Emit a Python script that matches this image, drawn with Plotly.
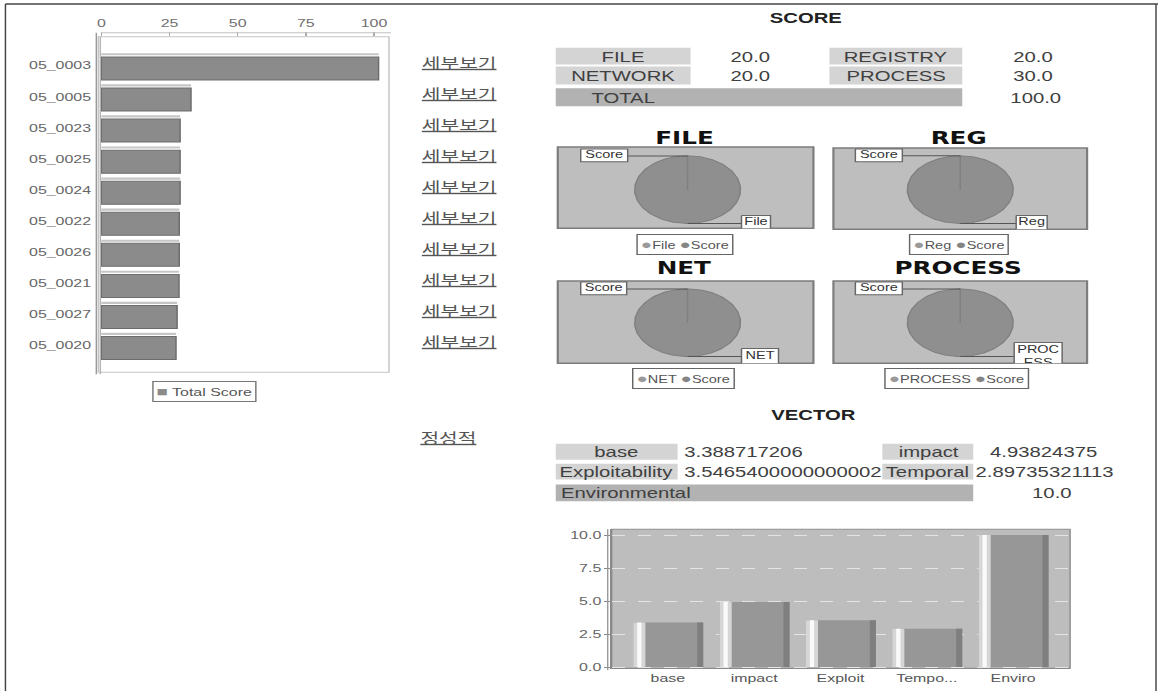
import numpy as np
import plotly.graph_objects as go

# ---------------- data ----------------
sample_ids = ["05_0003", "05_0005", "05_0023", "05_0025", "05_0024",
              "05_0022", "05_0026", "05_0021", "05_0027", "05_0020"]
total_scores = [101.7, 32.9, 28.9, 28.9, 28.9, 28.6, 28.6, 28.5, 27.8, 27.4]
total_x_ticks = [0, 25, 50, 75, 100]

score_names = ["FILE", "REGISTRY", "NETWORK", "PROCESS"]
score_values = [20.0, 20.0, 20.0, 30.0]
score_total = 100.0

pie_titles = ["FILE", "REG", "NET", "PROCESS"]
pie_labels = [["File", "Score"], ["Reg", "Score"], ["NET", "Score"], ["PROCESS", "Score"]]
pie_values = [[20.0, 0.0], [20.0, 0.0], [20.0, 0.0], [30.0, 0.0]]

vector_names = ["base", "impact", "Exploitability", "Temporal", "Environmental"]
vector_values = [3.388717206, 4.93824375, 3.5465400000000002, 2.89735321113, 10.0]
vector_tick_text = ["base", "impact", "Exploit", "Tempo...", "Enviro"]
vector_y_ticks = [0.0, 2.5, 5.0, 7.5, 10.0]

# ---------------- page geometry ----------------
VIEW_W, VIEW_H = 1164, 696          # on-screen size of the page
FIG_W = 803                          # figure is laid out narrow, then stretched wide
SX = VIEW_W / FIG_W

SANS = "Liberation Sans, Arial, sans-serif"
HEAVY = "DejaVu Sans, sans-serif"
KO = "Noto Sans CJK KR, sans-serif"
TXT = "#404040"


def px(x):
    return x / VIEW_W


def py(y):
    return 1 - y / VIEW_H


fig = go.Figure()
shapes = []
annotations = []


def rect(x0, y0, x1, y1, fill, line=None, lw=1, layer="below"):
    shapes.append(dict(type="rect", xref="paper", yref="paper",
                       x0=px(x0), x1=px(x1), y0=py(y1), y1=py(y0),
                       fillcolor=fill, layer=layer,
                       line=dict(color=line or fill, width=lw if line else 0)))


def hline(x0, x1, y, color, w=1):
    shapes.append(dict(type="line", xref="paper", yref="paper",
                       x0=px(x0), x1=px(x1), y0=py(y), y1=py(y),
                       line=dict(color=color, width=w)))


def vline(x, y0, y1, color, w=1):
    shapes.append(dict(type="line", xref="paper", yref="paper",
                       x0=px(x), x1=px(x), y0=py(y0), y1=py(y1),
                       line=dict(color=color, width=w)))


def text(x, y, s, size=14, color=TXT, family=SANS, xanchor="center", **kw):
    annotations.append(dict(x=px(x), y=py(y), xref="paper", yref="paper",
                            text=s, showarrow=False, xanchor=xanchor, yanchor="middle",
                            font=dict(size=size, color=color, family=family), **kw))


# ---------------- outer frame ----------------
hline(4, 1158, 4, "#444444", 1.5)
vline(4, 4, 696, "#444444", 1)
vline(1156, 4, 696, "#444444", 1)

# ---------------- total score bar chart ----------------
rect(97, 37, 388, 375, "#ffffff", "#c4c4c4", 1)
vline(95, 33, 377, "#9a9a9a", 1)
vline(99, 37, 377, "#b5b5b5", 1)
hline(100, 390, 33, "#c0c0c0", 1)

fig.add_trace(go.Bar(
    orientation="h", y=sample_ids, x=total_scores, width=0.74, offset=-0.28,
    marker=dict(color="#8b8b8b", line=dict(color="#6c6c6c", width=1)),
    xaxis="x", yaxis="y", showlegend=False, hoverinfo="skip"))
# light top face of each 3D bar
fig.add_trace(go.Bar(
    orientation="h", y=sample_ids, x=total_scores, width=0.07, offset=-0.40,
    marker=dict(color="#c6c6c6", line=dict(width=0)),
    xaxis="x", yaxis="y", showlegend=False, hoverinfo="skip"))

# detail links next to every row
for sid in sample_ids:
    annotations.append(dict(x=px(459), xref="paper", y=sid, yref="y", yshift=4,
                            text="<u>세부보기</u>", showarrow=False,
                            xanchor="center", yanchor="middle",
                            font=dict(size=14, color="#555555", family=KO)))

text(203, 394, "<span style='color:#8b8b8b;font-size:13px'>■</span> Total Score", size=11,
     color="#555555", bordercolor="#777777", borderwidth=1, borderpad=2, bgcolor="#ffffff")

text(448, 440, "<u>정성적</u>", size=14, color="#555555", family=KO)

# ---------------- SCORE table ----------------
text(805, 18, "<b>SCORE</b>", size=14, color="#222222")
score_cells = [((555, 690), (48, 65), 749), ((829, 962), (48, 65), 1032),
               ((555, 690), (67, 85), 749), ((829, 962), (67, 85), 1032)]
for name, val, ((bx0, bx1), (by0, by1), vx) in zip(score_names, score_values, score_cells):
    rect(bx0, by0, bx1, by1, "#d4d4d4")
    text((bx0 + bx1) / 2, (by0 + by1) / 2 + 0.5, name)
    text(vx, (by0 + by1) / 2 + 0.5, f"{val:.1f}")
rect(555, 89, 962, 107, "#b2b2b2")
text(622, 98.5, "TOTAL")
text(1035, 98.5, f"{score_total:.1f}")

# ---------------- score pies ----------------
PIE_PANELS = [(557, 148, 813, 230), (833, 149, 1087, 231),
              (557, 283, 813, 366), (833, 283, 1087, 366)]
PIE_CENTERS = [(687, 191), (960, 191), (687, 325), (960, 325)]
PIE_TITLE_POS = [(684, 139), (959, 139), (684, 270), (958, 270)]
PIE_LEGEND_POS = [(684, 246.5), (958, 246.5), (683, 381), (957, 381)]
PIE_LABEL_BOXES = [
    [(741, 217, 770, 232), (580, 150, 627, 163)],
    [(1016, 217, 1047, 232), (855, 150, 902, 163)],
    [(741, 351, 778, 368), (580, 284, 626, 297)],
    [(1014, 345, 1062, 377), (855, 284, 902, 297)],
]
RX, RY = 53, 34
PIE_FILL = "#8f8f8f"
PIE_EDGE = "#7f7f7f"


def wrap_label(s, n=5):
    if len(s) <= n:
        return s
    return "<br>".join(s[i:i + 4] for i in range(0, len(s), 4))


layout_axes = {}
for k, (title, names, vals) in enumerate(zip(pie_titles, pie_labels, pie_values)):
    x0, y0, x1, y1 = PIE_PANELS[k]
    cx, cy = PIE_CENTERS[k]
    ax = str(k + 2)
    xa, ya = "x" + ax, "y" + ax
    layout_axes["xaxis" + ax] = dict(domain=[px(x0), px(x1)], range=[x0, x1], visible=False,
                                     anchor=ya, fixedrange=True)
    layout_axes["yaxis" + ax] = dict(domain=[py(y1), py(y0)], range=[y1, y0], visible=False,
                                     anchor=xa, fixedrange=True)
    rect(x0, y0, x1, y1, "#bebebe", "#7c7c7c", 1.5)

    total = sum(vals)
    start = 0.0
    mids = []
    for v in vals:
        frac = v / total
        a0, a1 = start * 2 * np.pi, (start + frac) * 2 * np.pi
        mids.append((a0 + a1) / 2)
        if frac > 0:
            t = np.linspace(a0, a1, int(180 * frac) + 2)
            xs = np.concatenate([[cx], cx + RX * np.sin(t), [cx]])
            ys = np.concatenate([[cy], cy - RY * np.cos(t), [cy]])
            fig.add_trace(go.Scatter(x=xs, y=ys, mode="lines", fill="toself",
                                     fillcolor=PIE_FILL, line=dict(color=PIE_EDGE, width=1),
                                     xaxis=xa, yaxis=ya, showlegend=False, hoverinfo="skip"))
        start += frac

    for name, mid, (bx0, by0, bx1, by1) in zip(names, mids, PIE_LABEL_BOXES[k]):
        axp, ayp = cx + RX * np.sin(mid), cy - RY * np.cos(mid)
        bxm = bx1 if abs(bx1 - axp) < abs(bx0 - axp) else bx0
        bym = min(max(ayp, by0 + 6), by1 - 6)
        fig.add_trace(go.Scatter(x=[bxm, axp], y=[bym, ayp], mode="lines",
                                 line=dict(color="#555555", width=1),
                                 xaxis=xa, yaxis=ya, showlegend=False, hoverinfo="skip"))
        fig.add_trace(go.Scatter(x=[bx0, bx1, bx1, bx0, bx0], y=[by0, by0, by1, by1, by0],
                                 mode="lines", fill="toself", fillcolor="#ffffff",
                                 line=dict(color="#666666", width=1),
                                 xaxis=xa, yaxis=ya, showlegend=False, hoverinfo="skip"))
        label = wrap_label(name)
        ty = (by0 + by1) / 2 if "<br>" not in label else by0 + 15
        fig.add_trace(go.Scatter(x=[(bx0 + bx1) / 2], y=[ty], mode="text", text=[label],
                                 textposition="middle center",
                                 textfont=dict(size=10, color="#333333", family=SANS),
                                 cliponaxis=True,
                                 xaxis=xa, yaxis=ya, showlegend=False, hoverinfo="skip"))

    tx, ty = PIE_TITLE_POS[k]
    text(tx, ty, f"<b>{title}</b>", size=17, color="#111111", family=HEAVY)
    lx, ly = PIE_LEGEND_POS[k]
    legend_txt = (f"<span style='color:#9a9a9a;font-size:13px'>●</span>{names[0]} "
                  f"<span style='color:#858585;font-size:13px'>●</span>{names[1]}")
    text(lx, ly, legend_txt, size=10, color="#555555", bordercolor="#666666",
         borderwidth=1, borderpad=2, bgcolor="#ffffff")

# ---------------- VECTOR table ----------------
text(813, 418, "<b>VECTOR</b>", size=14, color="#222222")
vector_cells = [((555, 677), (447, 463), 680, "left"), ((882, 973), (447, 463), 1044, "center"),
                ((555, 677), (467, 483), 680, "left"), ((882, 973), (467, 483), 1044, "center")]
for name, val, ((bx0, bx1), (by0, by1), vx, anc) in zip(vector_names[:4], vector_values[:4], vector_cells):
    rect(bx0, by0, bx1, by1, "#d4d4d4")
    text((bx0 + bx1) / 2, (by0 + by1) / 2 + 0.5, name)
    text(vx, (by0 + by1) / 2 + 0.5, str(val), xanchor=anc)
rect(555, 488, 973, 505, "#b2b2b2")
text(557, 496.5, vector_names[4], xanchor="left")
text(1052, 496.5, str(vector_values[4]))

# ---------------- VECTOR bar chart ----------------
rect(611, 533, 1070, 673, "#bdbdbd", "#8e8e8e", 1)
vline(607, 533, 675, "#9a9a9a", 1)

fig.add_trace(go.Bar(x=vector_names, y=vector_values, width=0.81, offset=-0.40,
                     marker=dict(color="#979797", line=dict(width=0)),
                     xaxis="x6", yaxis="y6", showlegend=False, hoverinfo="skip"))
fig.add_trace(go.Bar(x=vector_names, y=vector_values, width=0.14, offset=-0.40,
                     marker=dict(color="#d6d6d6", line=dict(width=0)),
                     xaxis="x6", yaxis="y6", showlegend=False, hoverinfo="skip"))
fig.add_trace(go.Bar(x=vector_names, y=vector_values, width=0.05, offset=-0.355,
                     marker=dict(color="#fafafa", line=dict(width=0)),
                     xaxis="x6", yaxis="y6", showlegend=False, hoverinfo="skip"))
fig.add_trace(go.Bar(x=vector_names, y=vector_values, width=0.07, offset=0.34,
                     marker=dict(color="#7f7f7f", line=dict(width=0)),
                     xaxis="x6", yaxis="y6", showlegend=False, hoverinfo="skip"))

fig.update_layout(
    width=FIG_W, height=VIEW_H,
    margin=dict(l=0, r=0, t=0, b=0),
    paper_bgcolor="#ffffff", plot_bgcolor="rgba(0,0,0,0)",
    barmode="overlay", showlegend=False,
    font=dict(family=SANS, color=TXT),
    xaxis=dict(domain=[px(97), px(388)], range=[-1.1, 105.5], side="top",
               tickvals=total_x_ticks, ticks="outside", ticklen=4, tickcolor="#aaaaaa",
               tickfont=dict(size=11, color="#707070", family=SANS),
               showgrid=False, zeroline=False, showline=False, anchor="y", fixedrange=True),
    yaxis=dict(domain=[py(375), py(37)], type="category", categoryorder="array",
               categoryarray=sample_ids, range=[9.87, -0.93],
               tickfont=dict(size=11, color="#666666", family=SANS),
               showgrid=False, zeroline=False, showline=False, ticks="",
               ticklabelstandoff=4, anchor="x", fixedrange=True),
    xaxis6=dict(domain=[px(611), px(1070)], type="category", categoryorder="array",
                categoryarray=vector_names, range=[-0.65, 4.66],
                tickvals=vector_names, ticktext=vector_tick_text,
                tickfont=dict(size=11, color="#555555", family=SANS),
                showline=True, linecolor="#8a8a8a", linewidth=1, ticks="",
                showgrid=False, zeroline=False, anchor="y6", fixedrange=True),
    yaxis6=dict(domain=[py(673), py(533)], range=[-0.08, 10.45],
                tickvals=vector_y_ticks, tickformat=".1f", ticks="outside", ticklen=4,
                tickcolor="#888888", tickfont=dict(size=11, color="#666666", family=SANS),
                showgrid=True, gridcolor="#e4e4e4", griddash="dash", gridwidth=1,
                zeroline=False, showline=True, linecolor="#8a8a8a", linewidth=1,
                anchor="x6", fixedrange=True),
    shapes=shapes,
    annotations=annotations,
)
fig.update_layout(**layout_axes)

# stretch the narrow layout across the full page width
post = ("var gd=document.getElementById('{plot_id}');"
        "document.documentElement.style.margin='0';"
        "document.body.style.margin='0';"
        "document.body.style.overflow='hidden';"
        "gd.style.transformOrigin='0 0';"
        "gd.style.transform='scaleX(" + f"{SX:.6f}" + ")';")
fig.write_html("out.html", config={"displayModeBar": False}, post_script=post)
